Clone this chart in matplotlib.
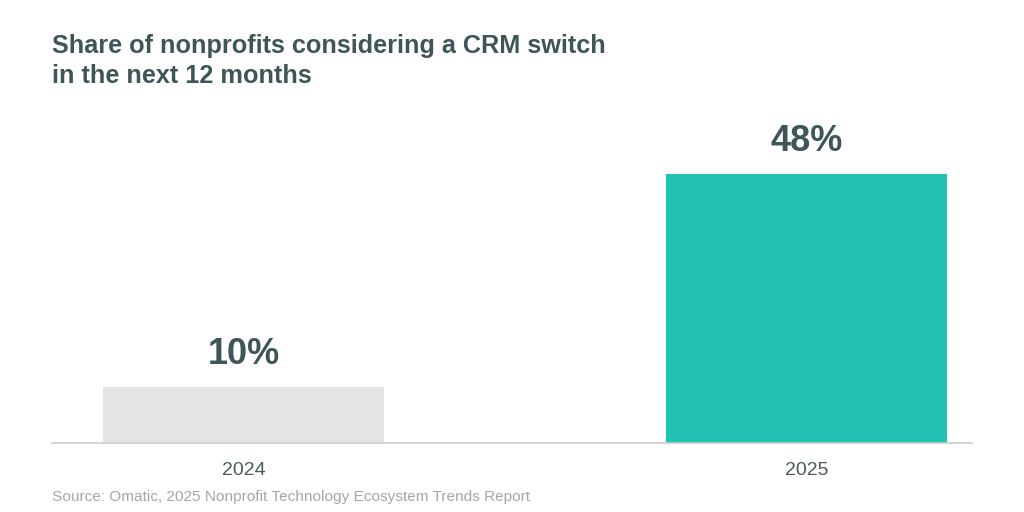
import matplotlib
matplotlib.use("Agg")
import matplotlib.pyplot as plt

plt.rcParams['font.family'] = ['Liberation Sans', 'DejaVu Sans']

categories = ["2024", "2025"]
values = [10, 48]
labels = ["10%", "48%"]
colors = ["#e4e4e4", "#21c1b4"]

title = "Share of nonprofits considering a CRM switch\nin the next 12 months"
source = "Source: Omatic, 2025 Nonprofit Technology Ecosystem Trends Report"

fig = plt.figure(figsize=(10.24, 5.12), dpi=100)
ax = fig.add_axes([52/1024, (512-443)/512, 920/1024, 336/512])

x = list(range(len(categories)))
ax.bar(x, values, width=0.499, color=colors, zorder=2)
for xi, v, lab in zip(x, values, labels):
    ax.annotate(lab, (xi, v), xytext=(0, 11), textcoords="offset points",
                ha="center", va="bottom", fontsize=26, fontweight="bold",
                color="#3f5659")

ax.set_xlim(-0.340, 1.294)
ax.set_ylim(0, 60)
ax.set_xticks(x)
ax.set_xticklabels(categories, fontsize=14, color="#4a5a5e")
ax.tick_params(axis="x", length=0, pad=14)
ax.set_yticks([])
for s in ["top", "right", "left"]:
    ax.spines[s].set_visible(False)
ax.spines["bottom"].set_color("#cccccc")
ax.spines["bottom"].set_linewidth(1.2)

fig.text(52/1024, 1 - 34/512, title, ha="left", va="top", fontsize=18.2,
         fontweight="bold", color="#3f5659", linespacing=1.32)
fig.text(52/1024, 1 - 497/512, source, ha="left", va="center", fontsize=11.1,
         color="#a6a6a6")

fig.savefig("out.png", dpi=100)
